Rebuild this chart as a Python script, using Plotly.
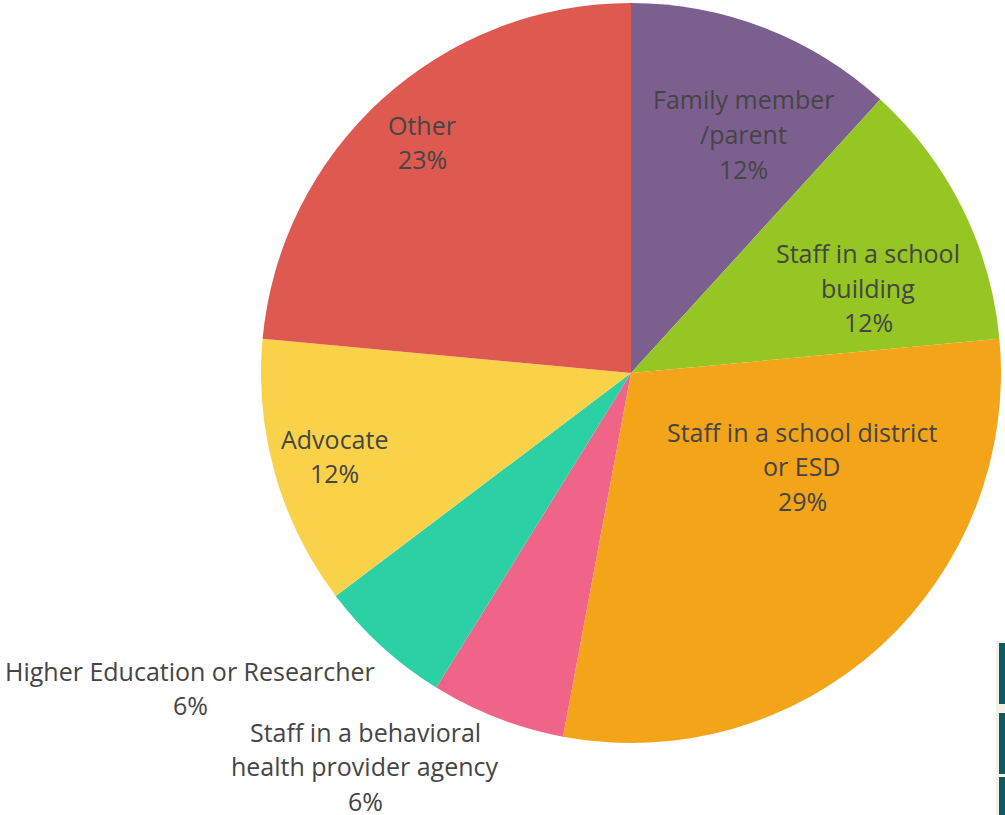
import math
import plotly.graph_objects as go

labels = [
    "Family member<br>/parent",
    "Staff in a school<br>building",
    "Staff in a school district<br>or ESD",
    "Staff in a behavioral<br>health provider agency",
    "Higher Education or Researcher",
    "Advocate",
    "Other",
]
values = [2, 2, 5, 1, 1, 2, 4]
colors = ["#7B5F8F", "#95C623", "#F4A419", "#F06488", "#2BD0A5", "#FAD24A", "#DE5A51"]

# label block centres in pixels (x, y)
label_pos = [(743, 134), (868, 288), (802, 466), (365, 766), (190, 688), (334, 456), (422, 142)]

W, H = 1005, 815
cx, cy, r = 631, 373, 370

# whole percentages summing to 100 (largest remainder)
total = sum(values)
raw = [100 * v / total for v in values]
pcts = [math.floor(x) for x in raw]
order = sorted(range(len(raw)), key=lambda i: raw[i] - pcts[i], reverse=True)
for i in order[: 100 - sum(pcts)]:
    pcts[i] += 1

fig = go.Figure(go.Pie(
    labels=labels,
    values=values,
    sort=False,
    direction="clockwise",
    rotation=0,
    marker=dict(colors=colors, line=dict(width=0)),
    textinfo="none",
    hoverinfo="label+percent",
    showlegend=False,
    domain=dict(x=[(cx - r) / W, (cx + r) / W], y=[1 - (cy + r) / H, 1 - (cy - r) / H]),
))

annotations = []
line_h = 34.5
for lab, p, (px, py) in zip(labels, pcts, label_pos):
    lines = lab.split("<br>") + [f"{p}%"]
    n = len(lines)
    for i, t in enumerate(lines):
        y = py + (i - (n - 1) / 2) * line_h
        annotations.append(dict(
            x=px / W, y=1 - y / H, xref="paper", yref="paper",
            text=t, showarrow=False, xanchor="center", yanchor="middle",
            font=dict(family="Open Sans", size=25, color="#454545"),
        ))

shapes = [
    dict(type="rect", xref="paper", yref="paper", x0=996 / W, x1=1.0, y0=0, y1=1 - 641 / H,
         fillcolor="#F3F0E8", line=dict(width=0), layer="below"),
    dict(type="rect", xref="paper", yref="paper", x0=999 / W, x1=1.0, y0=1 - 704 / H, y1=1 - 643 / H,
         fillcolor="#0E5A62", line=dict(width=0)),
    dict(type="rect", xref="paper", yref="paper", x0=999 / W, x1=1.0, y0=1 - 774 / H, y1=1 - 713 / H,
         fillcolor="#0E5A62", line=dict(width=0)),
    dict(type="rect", xref="paper", yref="paper", x0=999 / W, x1=1.0, y0=0, y1=1 - 777 / H,
         fillcolor="#0E5A62", line=dict(width=0)),
]

fig.update_layout(
    width=W, height=H,
    margin=dict(l=0, r=0, t=0, b=0),
    paper_bgcolor="white", plot_bgcolor="white",
    annotations=annotations,
    shapes=shapes,
)

fig.write_html(
    "out.html",
    config={"displayModeBar": False},
    post_script="document.body.style.margin='0';document.body.style.overflow='hidden';",
)
